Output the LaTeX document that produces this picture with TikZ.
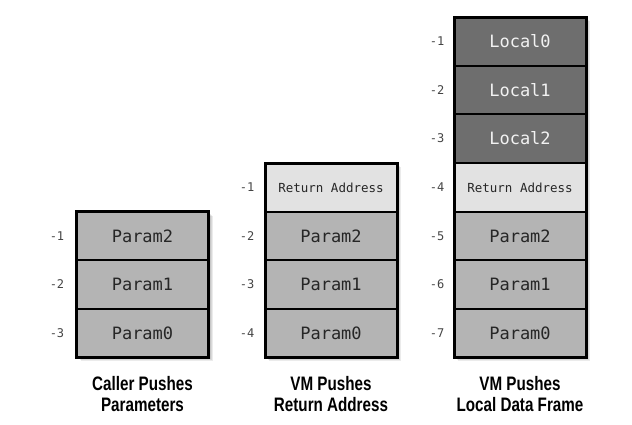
\documentclass[tikz,border=0pt]{standalone}
\usepackage{fontspec}
\setmonofont{DejaVu Sans Mono}
\newfontfamily\capfont[FakeStretch=0.78]{Liberation Sans Bold}
\definecolor{paramgray}{HTML}{B4B4B4}
\definecolor{retgray}{HTML}{E2E2E2}
\definecolor{localgray}{HTML}{6E6E6E}
\definecolor{idxgray}{HTML}{444444}
\tikzset{
  cellbox/.style={draw=black, line width=2pt, minimum width=132pt, minimum height=48.5pt, inner sep=0pt, outer sep=0pt, anchor=center},
  paramcell/.style={cellbox, fill=paramgray, font=\ttfamily\fontsize{17}{17}\selectfont, text=black!85},
  retcell/.style={cellbox, fill=retgray, font=\ttfamily\fontsize{12.5}{12.5}\selectfont, text=black!85},
  localcell/.style={cellbox, fill=localgray, font=\ttfamily\fontsize{17}{17}\selectfont, text=white!95!black},
  idx/.style={font=\ttfamily\fontsize{12}{12}\selectfont, text=idxgray, inner sep=0pt},
  caption/.style={font=\capfont\fontsize{19.5}{21}\selectfont, align=center, inner sep=0pt},
  outline/.style={draw=black, line width=3pt},
  shadowbox/.style={fill=black, opacity=0.08, draw=none}
}
\begin{document}
\begin{tikzpicture}[x=1pt,y=-1pt]
\useasboundingbox[fill=white] (0,0) rectangle (632,424);
% shadows
\foreach \o in {1,2,3,4}{
  \fill[shadowbox] (76.5+\o,211.5+\o) rectangle (208.5+\o,357+\o);
  \fill[shadowbox] (265+\o,163+\o) rectangle (397+\o,357+\o);
  \fill[shadowbox] (454+\o,17+\o) rectangle (586+\o,357+\o);
}
% Stack 1
\node[paramcell] (a2) at (142.5,236) {Param2};
\node[paramcell] (a1) at (142.5,284.5) {Param1};
\node[paramcell] (a0) at (142.5,333) {Param0};
\draw[outline] (a2.north west) rectangle (a0.south east);
\node[idx] (ia2) at (57,236) {-1};
\node[idx] (ia1) at (57,284.5) {-2};
\node[idx] (ia0) at (57,333) {-3};
\node[caption] (ca) at (142.5,394) {Caller Pushes\\Parameters};
% Stack 2
\node[retcell] (br) at (331,187.5) {Return Address};
\node[paramcell] (b2) at (331,236) {Param2};
\node[paramcell] (b1) at (331,284.5) {Param1};
\node[paramcell] (b0) at (331,333) {Param0};
\draw[outline] (br.north west) rectangle (b0.south east);
\node[idx] (ibr) at (247,187.5) {-1};
\node[idx] (ib2) at (247,236) {-2};
\node[idx] (ib1) at (247,284.5) {-3};
\node[idx] (ib0) at (247,333) {-4};
\node[caption] (cb) at (331,394) {VM Pushes\\Return Address};
% Stack 3
\node[localcell] (l0) at (520,41.5) {Local0};
\node[localcell] (l1) at (520,90) {Local1};
\node[localcell] (l2) at (520,138.5) {Local2};
\node[retcell] (cr) at (520,187.5) {Return Address};
\node[paramcell] (c2) at (520,236) {Param2};
\node[paramcell] (c1) at (520,284.5) {Param1};
\node[paramcell] (c0) at (520,333) {Param0};
\draw[outline] (l0.north west) rectangle (c0.south east);
\node[idx] (il0) at (437,41.5) {-1};
\node[idx] (il1) at (437,90) {-2};
\node[idx] (il2) at (437,138.5) {-3};
\node[idx] (icr) at (437,187.5) {-4};
\node[idx] (ic2) at (437,236) {-5};
\node[idx] (ic1) at (437,284.5) {-6};
\node[idx] (ic0) at (437,333) {-7};
\node[caption] (cc) at (520,394) {VM Pushes\\Local Data Frame};
\end{tikzpicture}
\end{document}
